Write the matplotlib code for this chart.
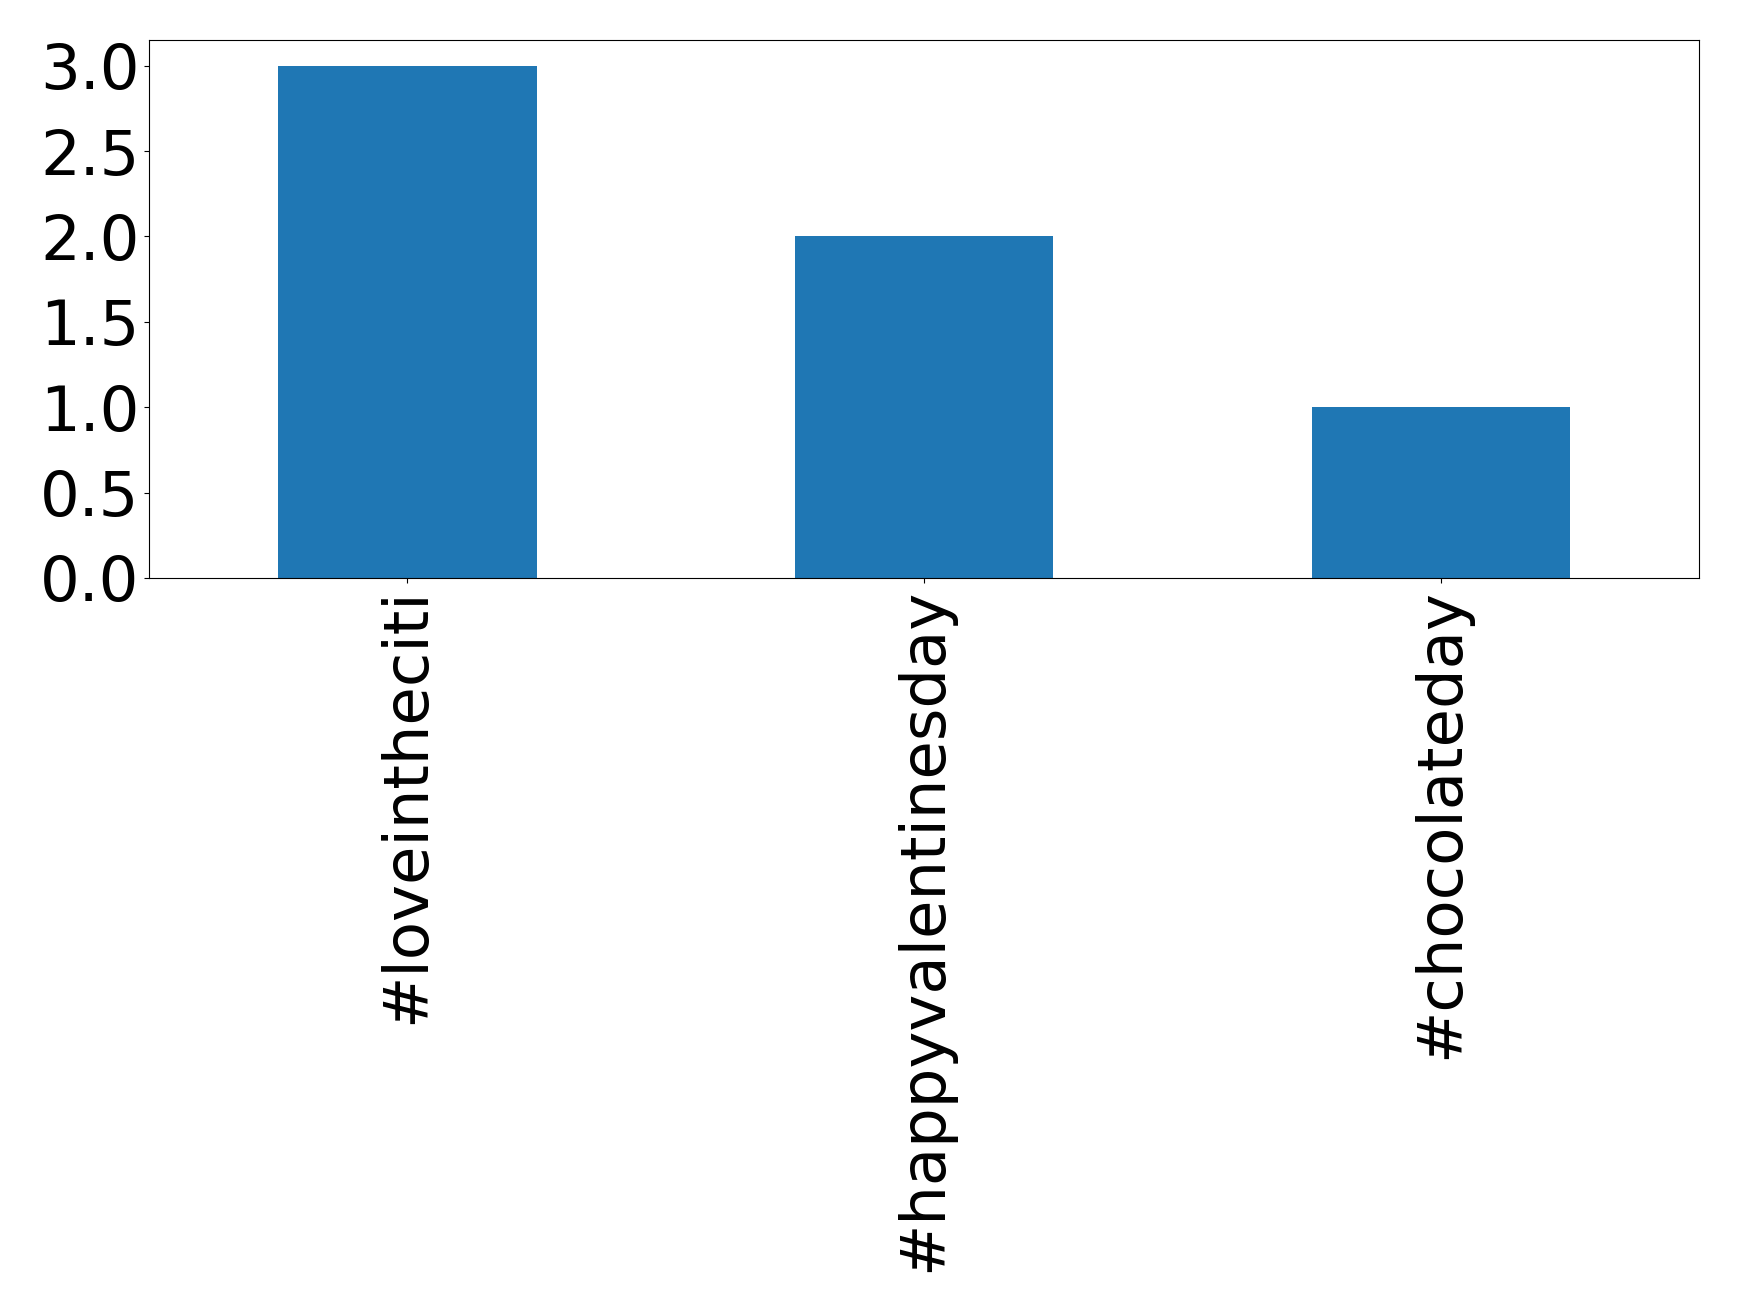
import matplotlib
matplotlib.use("Agg")
import matplotlib.pyplot as plt
import matplotlib.ticker as mticker
import pandas as pd

hashtags = ["#loveintheciti", "#happyvalentinesday", "#chocolateday"]
counts = [3, 2, 1]

series = pd.Series(counts, index=hashtags)

fig = plt.figure(figsize=(17.39, 13.12), dpi=100)
ax = fig.add_axes([149 / 1739, 1 - 578 / 1312, 1550 / 1739, 538 / 1312])
series.plot(kind="bar", ax=ax, color="#1f77b4")
ax.yaxis.set_major_locator(mticker.MultipleLocator(0.5))
ax.yaxis.set_major_formatter(mticker.FormatStrFormatter("%.1f"))
ax.tick_params(axis="both", labelsize=45)
plt.setp(ax.get_xticklabels(), rotation=90)

plt.savefig("out.png", dpi=100)
plt.close()
